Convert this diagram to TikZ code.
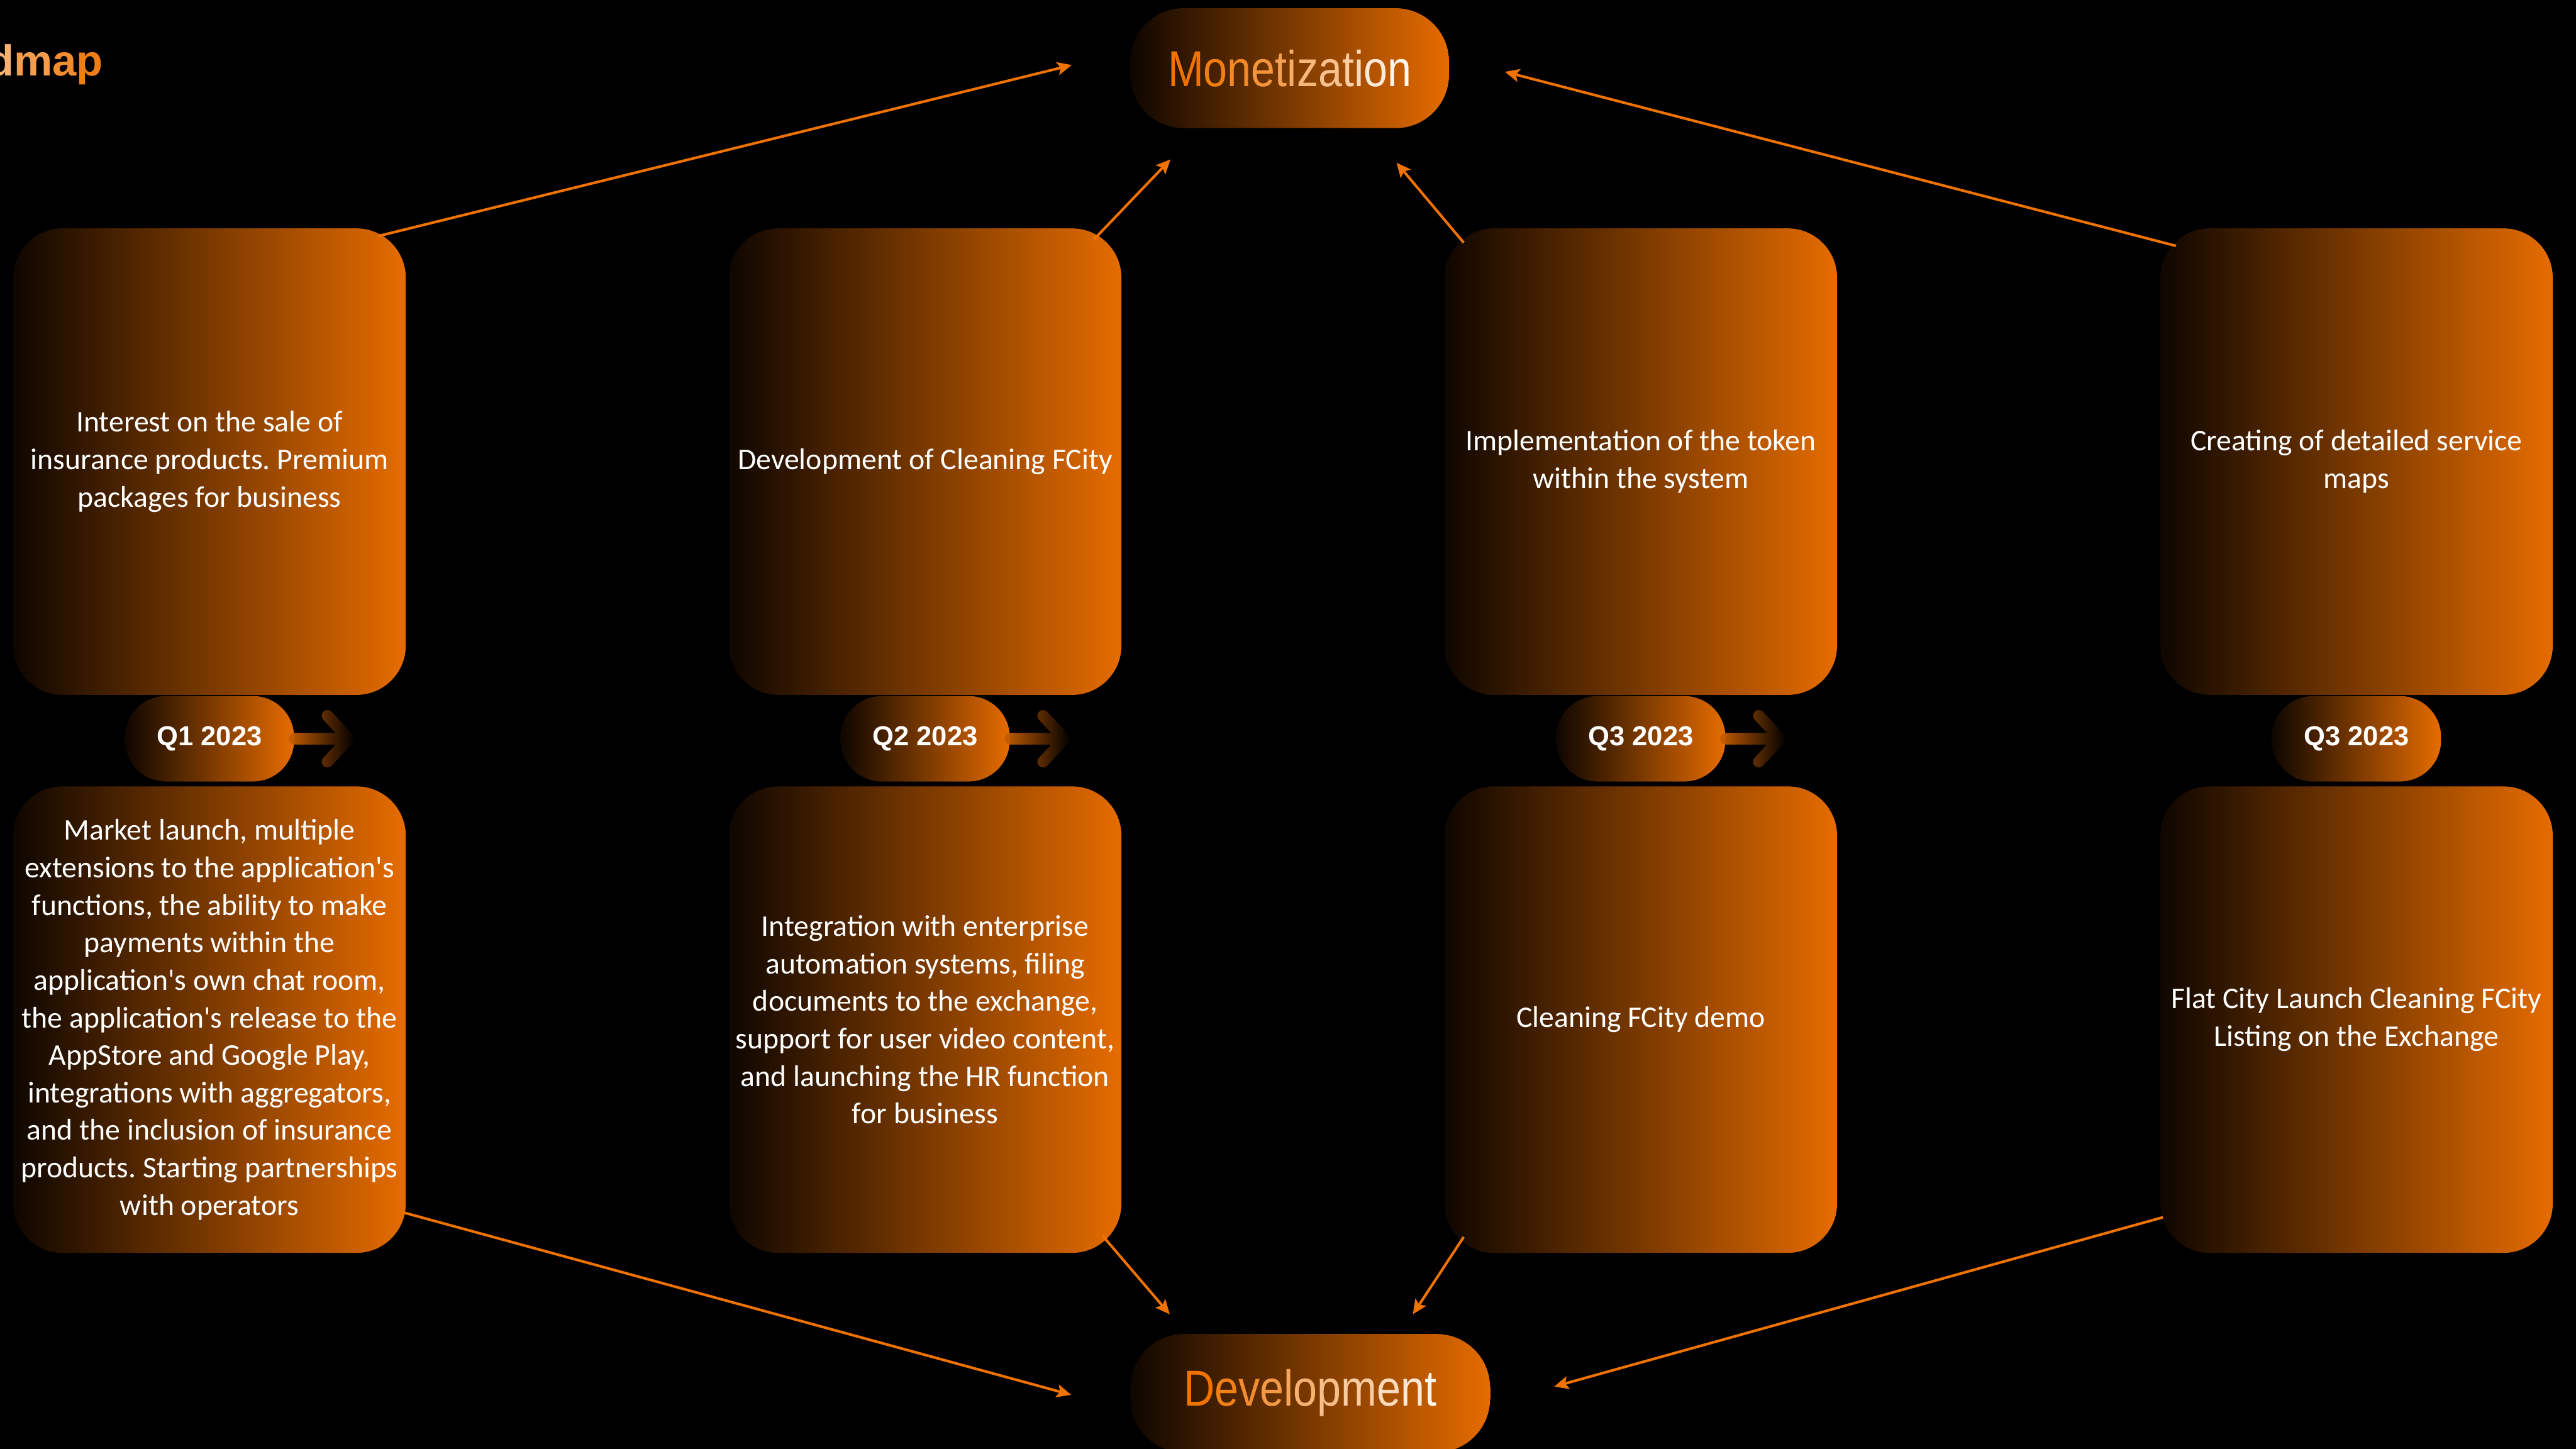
\documentclass[tikz,border=0pt]{standalone}
\usepackage{fontspec}
\setmainfont{Carlito}[Ligatures=TeXOff]
\newfontfamily\headfont[FakeStretch=0.85]{Liberation Sans}
\newfontfamily\qfont{Liberation Sans}
\usepackage{tikz}
\usetikzlibrary{arrows.meta,positioning,fadings}
\definecolor{flame}{HTML}{E66C00}
\definecolor{ember}{HTML}{F07300}
\definecolor{soot}{HTML}{0E0600}
\newcommand{\tint}[2]{\textcolor{ember!#1!white}{#2}}
\frenchspacing
\tikzset{
  card/.style={rounded corners=0.6cm,left color=soot,right color=flame,minimum width=4.78cm,minimum height=5.68cm,inner sep=1pt,align=center,text=white,font=\fontsize{10.4}{13}\selectfont},
  qpill/.style={rounded corners=0.5cm,left color=soot,right color=flame,minimum width=2.06cm,minimum height=1.04cm,inner sep=0pt,text=white,font=\qfont\bfseries\fontsize{9.5}{11}\selectfont},
  goal/.style={rounded corners=0.65cm,left color=soot,right color=flame,minimum height=1.46cm,inner sep=0pt,font=\headfont\fontsize{17.5}{20}\selectfont},
  link/.style={-{Stealth[length=5pt,width=4.5pt,inset=1pt]},line width=0.9pt,color=ember},
  chev/.style={line width=4pt,line cap=round,line join=round,draw=flame!85!black,path fading=east},
}
\begin{document}
\begin{tikzpicture}[x=0.02cm,y=-0.02cm]
  \useasboundingbox (0,0) rectangle (1568,882);
  \fill[black] (0,0) rectangle (1568,882);
  \node[anchor=base east,inner sep=0pt,font=\qfont\bfseries\fontsize{15}{18}\selectfont] (title) at (63,46)
    {\textcolor{ember!55!white}{d}\textcolor{ember!70!white}{m}\textcolor{ember!82!white}{a}\textcolor{ember!92!white}{p}};
  % the two goals
  \node[goal,minimum width=3.88cm] (mon) at (785,41.5)
    {\tint{100}{M}\tint{92}{o}\tint{84}{n}\tint{76}{e}\tint{68}{t}\tint{60}{i}\tint{52}{z}\tint{44}{a}\tint{36}{t}\tint{26}{i}\tint{16}{o}\tint{6}{n}};
  \node[goal,minimum width=4.38cm,minimum height=1.44cm] (dev) at (797.5,848)
    {\tint{100}{D}\tint{91}{e}\tint{82}{v}\tint{73}{e}\tint{64}{l}\tint{55}{o}\tint{46}{p}\tint{37}{m}\tint{26}{e}\tint{16}{n}\tint{6}{t}};
  % upper row
  \node[card] (u1) at (127.5,281) {Interest on the sale of\\insurance products. Premium\\packages for business};
  \node[card,right=3.92cm of u1] (u2) {Development of Cleaning FCity};
  \node[card,right=3.92cm of u2] (u3) {Implementation of the token\\within the system};
  \node[card,right=3.92cm of u3] (u4) {Creating of detailed service\\maps};
  % lower row
  \node[card,below=1.1cm of u1] (l1) {Market launch, multiple\\extensions to the application's\\functions, the ability to make\\payments within the\\application's own chat room,\\the application's release to the\\AppStore and Google Play,\\integrations with aggregators,\\and the inclusion of insurance\\products. Starting partnerships\\with operators};
  \node[card,below=1.1cm of u2] (l2) {Integration with enterprise\\automation systems, filing\\documents to the exchange,\\support for user video content,\\and launching the HR function\\for business};
  \node[card,below=1.1cm of u3] (l3) {Cleaning FCity demo};
  \node[card,below=1.1cm of u4] (l4) {Flat City Launch Cleaning FCity\\Listing on the Exchange};
  % quarters
  \foreach \i/\q in {1/Q1,2/Q2,3/Q3,4/Q3}
    \node[qpill,below=0pt of u\i] (q\i) {\q\ 2023};
  \foreach \i in {1,2,3}
    \draw[chev] (q\i.east) -- ++(33,0) ++(-13,-14) -- ++(13,14) -- ++(-13,14);
  % free ends of the links
  \coordinate (m1) at (652.4,39.6);
  \coordinate (m2) at (712.5,97);
  \coordinate (m3) at (850,99);
  \coordinate (m4) at (916,43.7);
  \coordinate (d1) at (652,849);
  \coordinate (d2) at (712,800);
  \coordinate (d3) at (860,800);
  \coordinate (d4) at (946,844);
  \draw[link] ([shift={(-17,5)}]u1.north east) -- (m1);
  \draw[link] ([shift={(-17,7)}]u2.north east) -- (m2);
  \draw[link] ([shift={(12,9)}]u3.north west) -- (m3);
  \draw[link] ([shift={(10,11)}]u4.north west) -- (m4);
  \draw[link] ([shift={(-2,-25)}]l1.south east) -- (d1);
  \draw[link] ([shift={(-12,-11)}]l2.south east) -- (d2);
  \draw[link] ([shift={(12,-10)}]l3.south west) -- (d3);
  \draw[link] ([shift={(2,-22)}]l4.south west) -- (d4);
\end{tikzpicture}
\end{document}
